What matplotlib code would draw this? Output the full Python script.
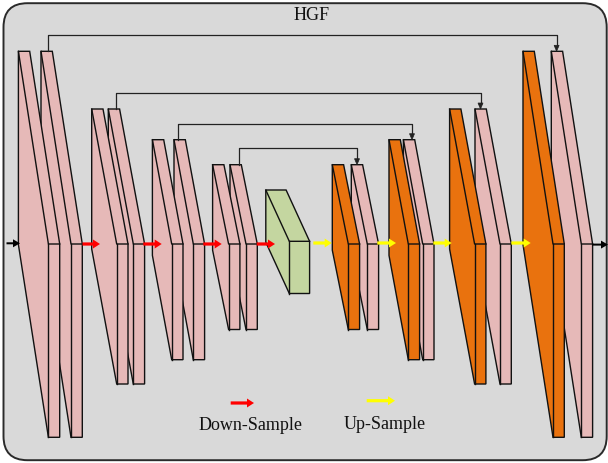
import matplotlib.pyplot as plt
from matplotlib.patches import Polygon, FancyBboxPatch, FancyArrow

# diagram geometry, in pixels of the 608x464 picture (y grows downward)
front_top = 245.0
slab_w = 11.3
level_back_top = [52.3, 110.0, 140.7, 165.7]
level_bottom = [438.3, 385.0, 360.7, 330.5]
level_dx = [30.0, 25.0, 19.3, 16.0]
enc_front_x = [[48.4, 71.0], [116.7, 133.3], [171.7, 193.3], [228.6, 246.0]]
dec_front_x = [[553.0, 581.3], [474.6, 500.0], [408.3, 422.7], [348.3, 367.3]]
dec_colors = ["#e9720e", "#e6b9b8"]

# bottleneck block
mid_front = (289.3, 20.3, 242.3, 294.5)
mid_depth = (23.5, 51.3)

# skip connections
skip_src_x = [47.7, 116.0, 178.3, 239.3]
skip_dst_x = [556.6, 480.5, 412.0, 357.0]
skip_y = [35.7, 94.0, 125.0, 149.3]

down_arrows = [(82.5, 100.0), (143.3, 161.7), (203.3, 221.7), (256.7, 275.0)]
up_arrows = [(313.3, 331.7), (377.3, 396.0), (433.3, 451.7), (511.3, 530.7)]

pink = "#e6b9b8"
green = "#c4d6a0"
edge = "#111111"

fig = plt.figure(figsize=(6.08, 4.64), dpi=100)
ax = fig.add_axes([0, 0, 1, 1])
ax.set_xlim(0, 608)
ax.set_ylim(464, 0)
ax.axis("off")

# grey rounded frame
ax.add_patch(FancyBboxPatch((3.5, 4.2), 603.2, 457.0,
                            boxstyle="round,pad=0,rounding_size=24",
                            fc="#d9d9d9", ec="#2a2a2a", lw=1.4, zorder=0))


def slab(fx, fw, ftop, fbot, dx, dy, color, z):
    bx, bt, bb = fx - dx, ftop - dy, fbot - dy
    outline = [(bx, bt), (bx + fw, bt), (fx + fw, ftop), (fx + fw, fbot),
               (fx, fbot), (bx, bb)]
    ax.add_patch(Polygon(outline, closed=True, fc=color, ec=edge, lw=1.0,
                         joinstyle="miter", zorder=z))
    ax.plot([bx, fx, fx + fw], [bt, ftop, ftop], color=edge, lw=1.0, zorder=z + 0.1)
    ax.plot([fx, fx], [ftop, fbot], color=edge, lw=1.0, zorder=z + 0.1)


z = 100
for i in range(4):
    dy = front_top - level_back_top[i]
    for j in range(2):
        # the left slab of a pair sits in front of the right one
        zz = z + (1 - j) * 2
        slab(enc_front_x[i][j], slab_w, front_top, level_bottom[i],
             level_dx[i], dy, pink, zz)
        slab(dec_front_x[i][j], slab_w, front_top, level_bottom[i],
             level_dx[i], dy, dec_colors[j], zz)
    z += 5

fx, fw, ft, fb = mid_front
slab(fx, fw, ft, fb, mid_depth[0], mid_depth[1], green, 140)

# skip connections with small arrow heads
for i in range(4):
    dst_top = level_back_top[i]
    ax.plot([skip_src_x[i], skip_src_x[i], skip_dst_x[i], skip_dst_x[i]],
            [level_back_top[i], skip_y[i], skip_y[i], dst_top - 5],
            color="#222222", lw=0.9, zorder=150)
    ax.add_patch(FancyArrow(skip_dst_x[i], dst_top - 6, 0, 6, width=0,
                            head_width=5, head_length=6, length_includes_head=True,
                            fc="#222222", ec="#222222", lw=0.5, zorder=151))


def arrow(x0, x1, y, color, shaft=3.2, hw=9, hl=7):
    ax.add_patch(FancyArrow(x0, y, x1 - x0, 0, width=shaft, head_width=hw,
                            head_length=hl, length_includes_head=True,
                            fc=color, ec="none", zorder=160))


for x0, x1 in down_arrows:
    arrow(x0, x1, 245.0, "#ff0000")
for x0, x1 in up_arrows:
    arrow(x0, x1, 244.0, "#ffff00")

# input / output arrows
arrow(6.5, 20.0, 244.3, "black", shaft=2.0, hw=8, hl=7)
arrow(592.3, 608.0, 245.6, "black", shaft=2.0, hw=8, hl=7)

# legend
arrow(230.7, 254.0, 404.0, "#ff0000")
arrow(366.7, 395.0, 401.7, "#ffff00")
serif = ["Liberation Serif", "DejaVu Serif"]
ax.text(250.8, 430.0, "Down-Sample", family=serif, fontsize=13,
        ha="center", va="baseline", color="#111111")
ax.text(384.5, 429.3, "Up-Sample", family=serif, fontsize=13,
        ha="center", va="baseline", color="#111111")
ax.text(311.7, 20.0, "HGF", family=serif, fontsize=13,
        ha="center", va="baseline", color="#111111")

fig.savefig("out.png", dpi=100, facecolor="white")
